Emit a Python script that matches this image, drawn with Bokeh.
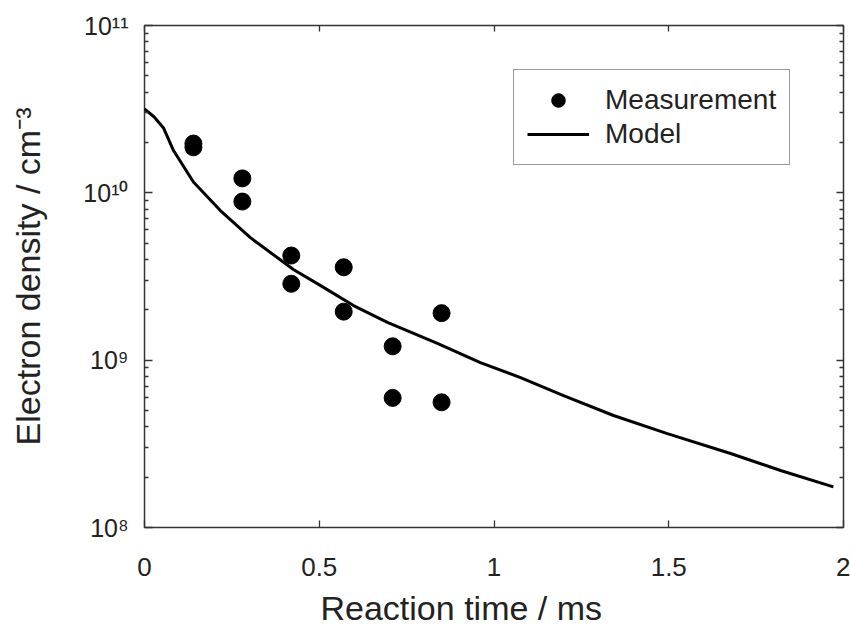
from bokeh.plotting import figure
from bokeh.models import (LinearAxis, LogAxis, FixedTicker, Legend, Title,
                          LegendItem, Range1d, CustomJSTickFormatter)
from bokeh.embed import file_html
from bokeh.resources import INLINE

# ---------------- data ----------------
meas_time = [0.14, 0.14, 0.28, 0.28, 0.42, 0.42, 0.57, 0.57, 0.71, 0.71, 0.85, 0.85]
meas_density = [1.97e10, 1.87e10, 1.22e10, 8.87e9, 4.22e9, 2.86e9,
                3.59e9, 1.95e9, 1.21e9, 5.95e8, 1.91e9, 5.6e8]

model_time = [0.0, 0.027, 0.054, 0.083, 0.14, 0.217, 0.303, 0.426, 0.504, 0.598,
              0.695, 0.838, 0.961, 1.076, 1.199, 1.342, 1.496, 1.677, 1.820, 1.971]
model_density = [3.17e10, 2.85e10, 2.45e10, 1.79e10, 1.16e10, 7.84e9, 5.4e9, 3.48e9,
                 2.79e9, 2.12e9, 1.68e9, 1.26e9, 9.68e8, 7.87e8, 6.14e8, 4.67e8,
                 3.64e8, 2.77e8, 2.19e8, 1.75e8]

x_ticks = [0, 0.5, 1, 1.5, 2]
x_tick_labels = ["0", "0.5", "1", "1.5", "2"]
y_ticks = [1e8, 1e9, 1e10, 1e11]
y_tick_base = "10"
y_tick_exps = ["8", "9", "10", "11"]
x_title = "Reaction time / ms"
y_title = "Electron density / cm"
y_title_exp = "-3"
legend_labels = ["Measurement", "Model"]

SUP = str.maketrans("0123456789-", "⁰¹²³⁴⁵⁶⁷⁸⁹⁻")
y_tick_labels = [y_tick_base + e.translate(SUP) for e in y_tick_exps]

FONT = "Liberation Sans"
INK = "#222222"
FRAME = "#333333"

p = figure(frame_width=699, frame_height=502,
           x_range=Range1d(0, 2), y_range=Range1d(1e8, 1e11),
           y_axis_type="log", x_axis_location=None, y_axis_location=None,
           output_backend="svg", toolbar_location=None,
           min_border_left=144, min_border_right=7, min_border_top=25,
           min_border_bottom=107, background_fill_color="white",
           border_fill_color="white")
p.grid.visible = False
p.outline_line_color = FRAME
p.outline_line_width = 1.5

y_minor = [m * 10 ** e for e in (8, 9, 10) for m in range(2, 10)]


def style(ax, major_in, minor_in=0):
    ax.axis_line_color = None
    ax.major_tick_out = 0
    ax.minor_tick_out = 0
    ax.major_tick_in = major_in
    ax.minor_tick_in = minor_in
    ax.major_tick_line_color = FRAME
    ax.minor_tick_line_color = FRAME
    ax.major_tick_line_width = 1.3
    ax.minor_tick_line_width = 1.3


def blank(ax):
    ax.formatter = CustomJSTickFormatter(code='return "";')
    ax.major_label_text_font_size = "1px"
    ax.major_label_standoff = 0


def lookup(vals, texts):
    return CustomJSTickFormatter(args=dict(tick_vals=vals, tick_texts=texts), code="""
        const i = tick_vals.indexOf(tick);
        return i >= 0 ? tick_texts[i] : "";
    """)


bottom = LinearAxis(ticker=FixedTicker(ticks=x_ticks, minor_ticks=[]),
                    formatter=lookup(x_ticks, x_tick_labels),
                    major_label_text_font_size="26px", major_label_text_font=FONT,
                    major_label_text_color=INK, major_label_standoff=30)
style(bottom, 7)
p.add_layout(bottom, "below")

top = LinearAxis(ticker=FixedTicker(ticks=x_ticks, minor_ticks=[]))
style(top, 6)
blank(top)
p.add_layout(top, "above")

left = LogAxis(ticker=FixedTicker(ticks=y_ticks, minor_ticks=y_minor),
               formatter=lookup(y_ticks, y_tick_labels),
               major_label_text_font_size="25px", major_label_text_font=FONT,
               major_label_text_color=INK, major_label_standoff=16,
               axis_label=y_title + y_title_exp.translate(SUP),
               axis_label_standoff=33, axis_label_text_font=FONT,
               axis_label_text_font_size="34px", axis_label_text_font_style="normal",
               axis_label_text_color=INK)
style(left, 8, 4)
p.add_layout(left, "left")

right = LogAxis(ticker=FixedTicker(ticks=y_ticks, minor_ticks=y_minor))
style(right, 7, 4)
blank(right)
p.add_layout(right, "right")

# ---------------- x axis title ----------------
p.add_layout(Title(text=x_title, align="left", offset=176, standoff=16,
                   text_font=FONT, text_font_size="34px", text_font_style="normal",
                   text_color=INK), "below")

# ---------------- glyphs ----------------
line_r = p.line(model_time, model_density, line_color="black", line_width=3)
dots_r = p.scatter(meas_time, meas_density, size=17, fill_color="black",
                   line_color="black")

legend = Legend(items=[LegendItem(label=legend_labels[0], renderers=[dots_r]),
                       LegendItem(label=legend_labels[1], renderers=[line_r])],
                location=(369, 362), orientation="vertical",
                label_text_font=FONT, label_text_font_size="28px",
                label_text_color=INK, glyph_width=62, glyph_height=34,
                label_standoff=16, padding=13, spacing=0, margin=0,
                border_line_color=FRAME, border_line_width=1.5,
                background_fill_color="white", background_fill_alpha=1.0)
p.add_layout(legend, "center")

open("out.html", "w").write(file_html(p, INLINE))
